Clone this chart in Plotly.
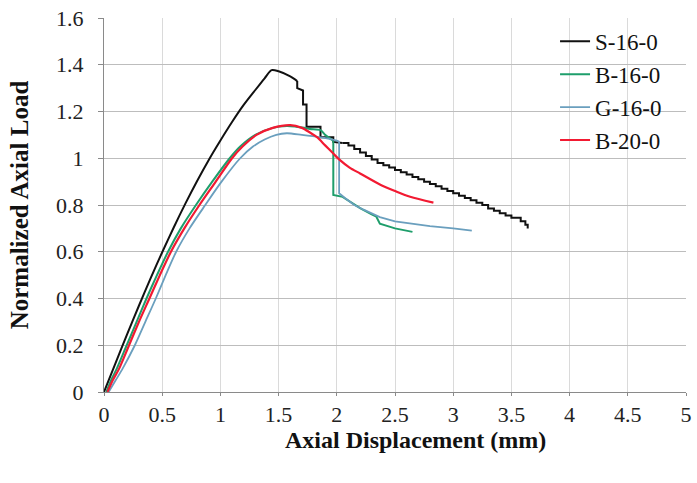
import plotly.graph_objects as go

# S-16-0: ascending branch and stepped drop after the peak
s16_x = [0.0, 0.1, 0.2, 0.3, 0.4, 0.5, 0.6, 0.7, 0.8, 0.9, 1.0, 1.1, 1.2, 1.3, 1.38, 1.44,
         1.50, 1.60, 1.66, 1.66, 1.71, 1.71, 1.74, 1.74, 1.86, 1.86, 1.97, 1.97, 2.05]
s16_y = [0.0, 0.125, 0.249, 0.369, 0.486, 0.598, 0.705, 0.807, 0.903, 0.993, 1.076, 1.155, 1.228, 1.292, 1.342, 1.377,
         1.372, 1.35, 1.33, 1.30, 1.29, 1.23, 1.23, 1.135, 1.135, 1.09, 1.09, 1.07, 1.065]
S16_SMOOTH_END = 18  # last point of the smooth ascending part

# S-16-0: post-peak sawtooth descent
s16_tail_x = [2.05, 2.10, 2.15, 2.20, 2.25, 2.30, 2.35, 2.40, 2.45, 2.50, 2.55, 2.60, 2.65, 2.70, 2.75,
              2.80, 2.85, 2.90, 2.95, 3.00, 3.05, 3.10, 3.15, 3.20, 3.25, 3.30, 3.35, 3.40, 3.45, 3.50,
              3.58, 3.62, 3.64]
s16_tail_y = [1.065, 1.055, 1.04, 1.025, 1.01, 0.995, 0.98, 0.97, 0.96, 0.95, 0.94, 0.93, 0.92, 0.91, 0.90,
              0.89, 0.88, 0.87, 0.86, 0.85, 0.84, 0.83, 0.82, 0.81, 0.80, 0.785, 0.775, 0.765, 0.755, 0.745,
              0.73, 0.715, 0.70]

b16_x = [0.02, 0.06, 0.11, 0.195, 0.28, 0.365, 0.455, 0.55, 0.66, 0.79, 0.93, 1.08, 1.17, 1.30, 1.45, 1.57,
         1.65, 1.72, 1.77, 1.86, 1.90, 1.97, 1.97, 2.05, 2.20, 2.30, 2.34, 2.37, 2.50, 2.65]
b16_y = [0.0, 0.05, 0.10, 0.20, 0.30, 0.40, 0.50, 0.60, 0.70, 0.80, 0.90, 1.00, 1.05, 1.10, 1.13, 1.138,
         1.135, 1.13, 1.125, 1.12, 1.10, 1.075, 0.843, 0.835, 0.787, 0.76, 0.75, 0.72, 0.70, 0.685]
B16_SMOOTH_END = 21

g16_x = [0.04, 0.10, 0.16, 0.265, 0.355, 0.445, 0.53, 0.62, 0.735, 0.87, 1.01, 1.17, 1.28, 1.38, 1.48, 1.57,
         1.70, 1.85, 2.00, 2.02, 2.02, 2.07, 2.15, 2.23, 2.37, 2.50, 2.63, 2.80, 3.00, 3.16]
g16_y = [0.0, 0.05, 0.10, 0.20, 0.30, 0.40, 0.50, 0.60, 0.70, 0.80, 0.90, 1.00, 1.05, 1.08, 1.10, 1.107,
         1.10, 1.09, 1.075, 1.07, 0.85, 0.83, 0.80, 0.78, 0.748, 0.73, 0.72, 0.71, 0.70, 0.69]
G16_SMOOTH_END = 19

b20_x = [0.03, 0.075, 0.13, 0.215, 0.30, 0.39, 0.48, 0.575, 0.69, 0.82, 0.96, 1.10, 1.19, 1.31, 1.45, 1.60,
         1.70, 1.77, 1.83, 1.90, 1.97, 2.02, 2.11, 2.20, 2.37, 2.50, 2.63, 2.83]
b20_y = [0.0, 0.05, 0.10, 0.20, 0.30, 0.40, 0.50, 0.60, 0.70, 0.80, 0.90, 1.00, 1.05, 1.10, 1.13, 1.142,
         1.13, 1.11, 1.09, 1.055, 1.02, 0.995, 0.96, 0.935, 0.888, 0.86, 0.835, 0.81]

x_ticks = [0, 0.5, 1, 1.5, 2, 2.5, 3, 3.5, 4, 4.5, 5]
x_tick_text = ["0", "0.5", "1", "1.5", "2", "2.5", "3", "3.5", "4", "4.5", "5"]
y_ticks = [0, 0.2, 0.4, 0.6, 0.8, 1.0, 1.2, 1.4, 1.6]
y_tick_text = ["0", "0.2", "0.4", "0.6", "0.8", "1", "1.2", "1.4", "1.6"]

SERIF = "Liberation Serif, Times New Roman, serif"
C_S16, C_B16, C_G16, C_B20 = "#111111", "#1e9e6b", "#6a9fbe", "#f21a32"


def add_series(xs, ys, split, name, color, width, tail_shape="linear"):
    """Smooth ascending branch followed by the post-peak branch, one legend entry."""
    fig.add_trace(go.Scatter(x=xs[:split + 1], y=ys[:split + 1], mode="lines", name=name,
                             legendgroup=name,
                             line=dict(color=color, width=width, shape="spline", smoothing=0.8)))
    if split < len(xs) - 1:
        fig.add_trace(go.Scatter(x=xs[split:], y=ys[split:], mode="lines", name=name,
                                 legendgroup=name, showlegend=False,
                                 line=dict(color=color, width=width, shape=tail_shape)))


fig = go.Figure()
add_series(s16_x, s16_y, S16_SMOOTH_END, "S-16-0", C_S16, 2)
fig.add_trace(go.Scatter(x=s16_tail_x, y=s16_tail_y, mode="lines", name="S-16-0", legendgroup="S-16-0",
                         showlegend=False, line=dict(color=C_S16, width=2, shape="hv")))
add_series(b16_x, b16_y, B16_SMOOTH_END, "B-16-0", C_B16, 2)
add_series(g16_x, g16_y, G16_SMOOTH_END, "G-16-0", C_G16, 1.8)
add_series(b20_x, b20_y, len(b20_x) - 1, "B-20-0", C_B20, 2.2)

# x-axis title placed as a paper annotation below the tick labels
fig.add_annotation(text="<b>Axial Displacement (mm)</b>", xref="paper", yref="paper",
                   x=0.535, y=-0.128, xanchor="center", yanchor="middle", showarrow=False,
                   font=dict(family=SERIF, size=24, color="#111111"))

fig.update_layout(
    width=697, height=483,
    margin=dict(l=104, r=11, t=18, b=91),
    paper_bgcolor="white", plot_bgcolor="white",
    font=dict(family=SERIF, size=22, color="#222222"),
    legend=dict(x=0.775, y=0.995, xanchor="left", yanchor="top",
                bgcolor="rgba(0,0,0,0)", font=dict(family=SERIF, size=23, color="#111111"),
                tracegroupgap=0),
    xaxis=dict(range=[0, 5], tickvals=x_ticks, ticktext=x_tick_text,
               showgrid=True, gridcolor="#dadada", gridwidth=1,
               showline=True, linecolor="#8a8a8a", linewidth=1,
               ticks="outside", ticklen=3, tickcolor="#8a8a8a",
               zeroline=False, fixedrange=True, automargin=False),
    yaxis=dict(range=[0, 1.6], tickvals=y_ticks, ticktext=y_tick_text,
               showgrid=True, gridcolor="#bdbdbd", gridwidth=1,
               showline=True, linecolor="#8a8a8a", linewidth=1,
               ticks="outside", ticklen=5, tickcolor="#8a8a8a",
               zeroline=False, fixedrange=True, automargin=False, ticklabelstandoff=10,
               title=dict(text="<b>Normalized Axial Load</b>", font=dict(family=SERIF, size=25, color="#111111"),
                          standoff=20)),
)

fig.write_html("out.html")
